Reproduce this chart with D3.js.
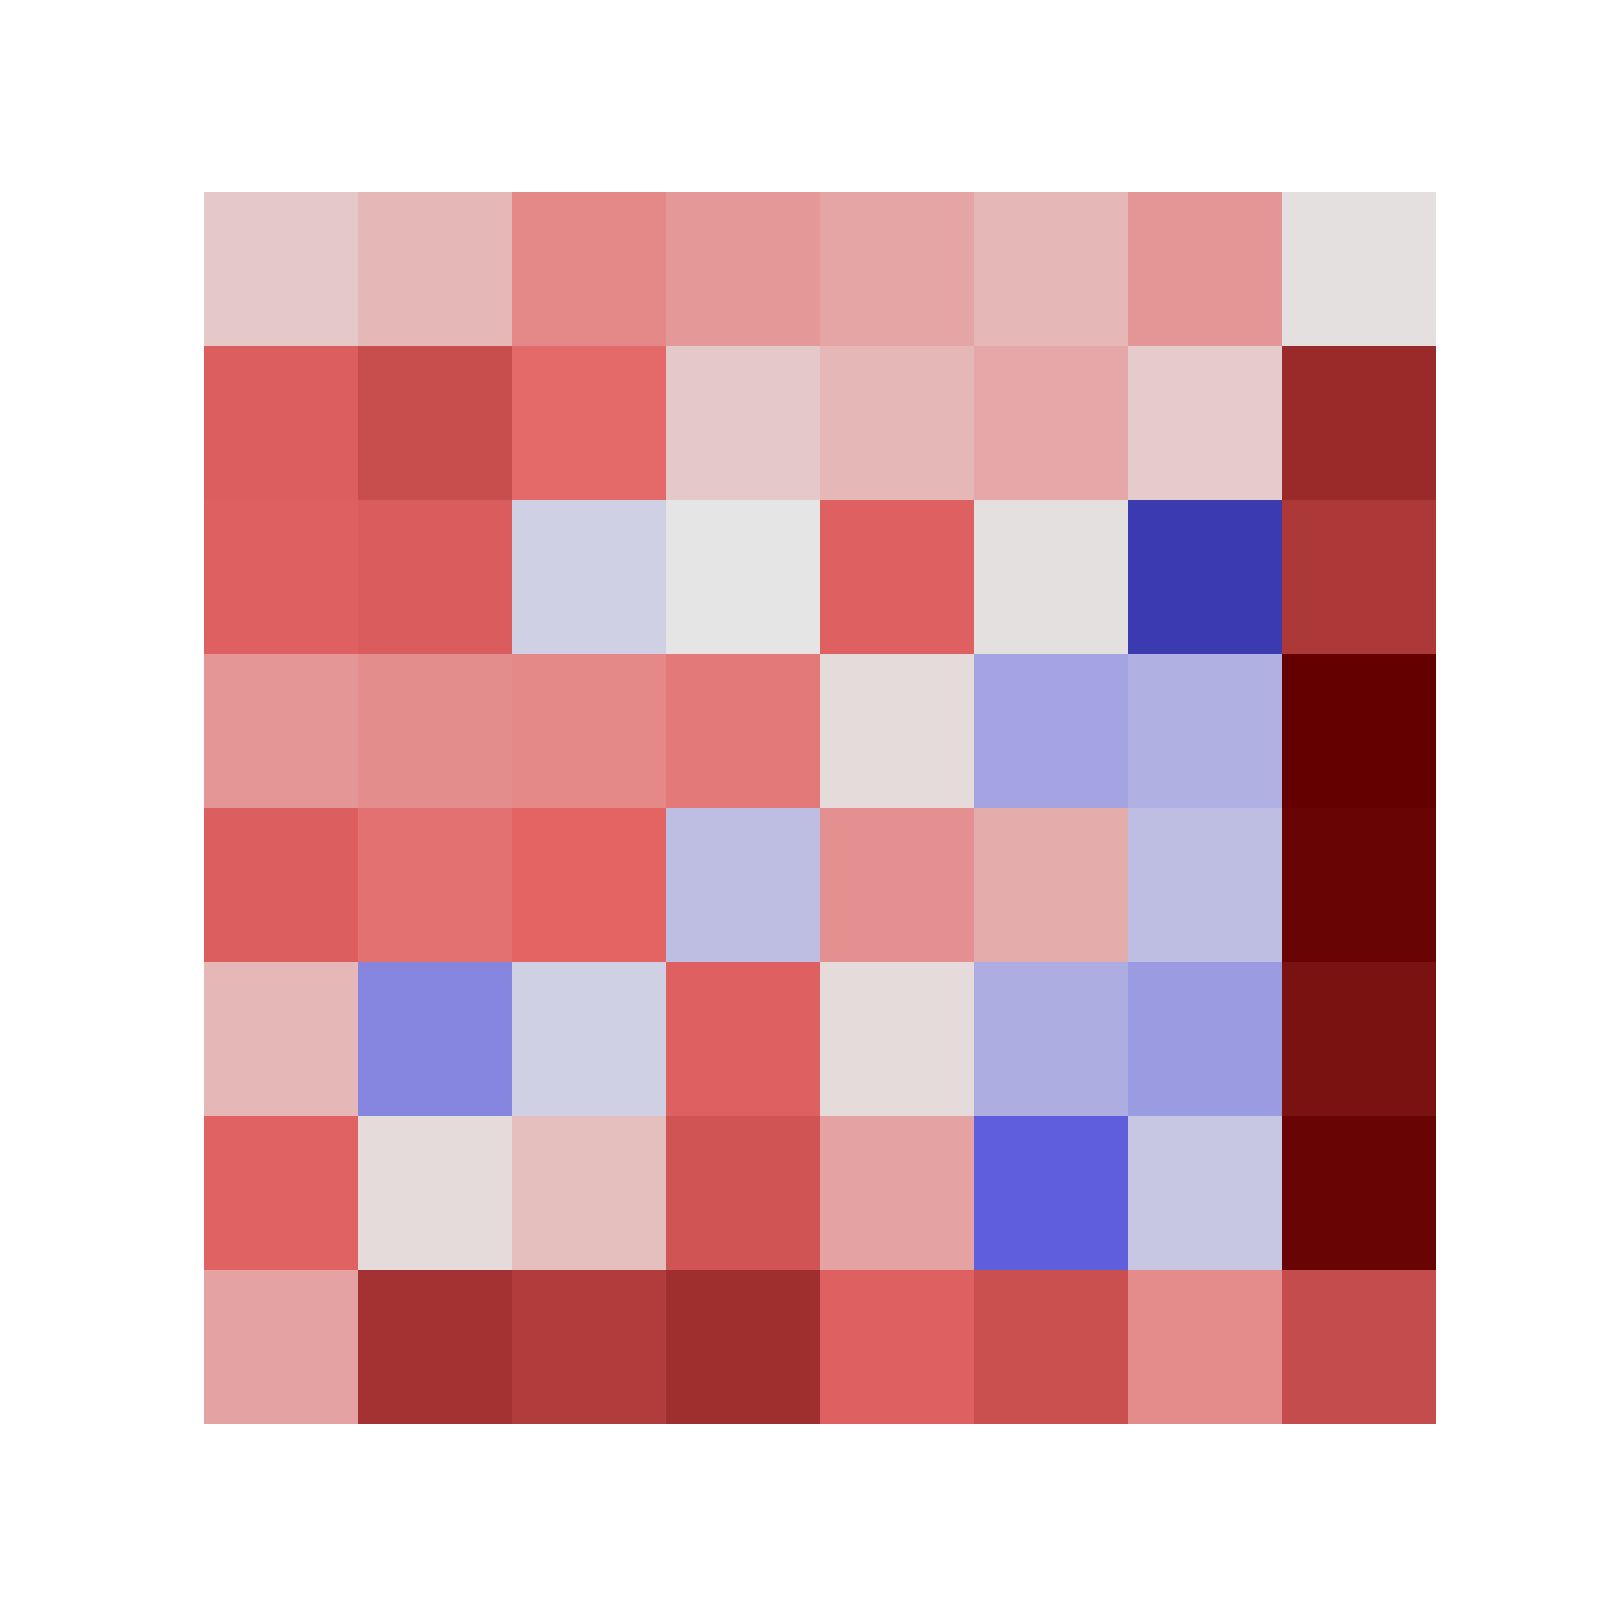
<!DOCTYPE html>
<html>
<head>
<meta charset="utf-8">
<script src="https://cdn.jsdelivr.net/npm/d3@7"></script>
<style>
  html, body { margin: 0; padding: 0; background: #ffffff; }
  svg { display: block; }
</style>
</head>
<body>
<div id="chart"></div>
<script>
// Row / column categories (no labels shown in the reference)
const rows = ["r1", "r2", "r3", "r4", "r5", "r6", "r7", "r8"];
const cols = ["c1", "c2", "c3", "c4", "c5", "c6", "c7", "c8"];

// Cell values, one array per row
const row1 = [0.11, 0.18, 0.36, 0.30, 0.25, 0.18, 0.31, 0.02];
const row2 = [0.53, 0.61, 0.48, 0.11, 0.18, 0.24, 0.10, 0.79];
const row3 = [0.52, 0.54, -0.09, 0.00, 0.52, 0.02, -0.80, 0.72];
const row4 = [0.31, 0.34, 0.36, 0.42, 0.04, -0.28, -0.23, 1.00];
const row5 = [0.53, 0.45, 0.50, -0.17, 0.33, 0.22, -0.17, 0.98];
const row6 = [0.18, -0.41, -0.09, 0.52, 0.04, -0.24, -0.32, 0.91];
const row7 = [0.51, 0.04, 0.15, 0.58, 0.26, -0.58, -0.13, 0.98];
const row8 = [0.26, 0.75, 0.70, 0.77, 0.52, 0.60, 0.35, 0.62];
const values = [row1, row2, row3, row4, row5, row6, row7, row8];

// Colour map anchors (diverging: blue - light grey - red - dark red)
const colorStops = [-1.0, -0.6, 0.0, 0.5, 1.0];
const colorRange = ["#1c1c80", "#5a5ade", "#e5e5e5", "#e46464", "#640000"];

const W = 1600, H = 1600;
const svg = d3.select("#chart").append("svg")
  .attr("width", W).attr("height", H);

svg.append("rect").attr("width", W).attr("height", H).attr("fill", "#ffffff");

const x = d3.scaleBand().domain(cols).range([204, 1436]).padding(0);
const y = d3.scaleBand().domain(rows).range([192, 1424]).padding(0);
const color = d3.scaleLinear().domain(colorStops).range(colorRange)
  .interpolate(d3.interpolateRgb).clamp(true);

const cells = [];
values.forEach((r, i) => r.forEach((v, j) => cells.push({ row: rows[i], col: cols[j], v })));

svg.append("g")
  .selectAll("rect")
  .data(cells)
  .join("rect")
  .attr("x", d => x(d.col))
  .attr("y", d => y(d.row))
  .attr("width", x.bandwidth())
  .attr("height", y.bandwidth())
  .attr("fill", d => color(d.v))
  .attr("shape-rendering", "crispEdges");
</script>
</body>
</html>
